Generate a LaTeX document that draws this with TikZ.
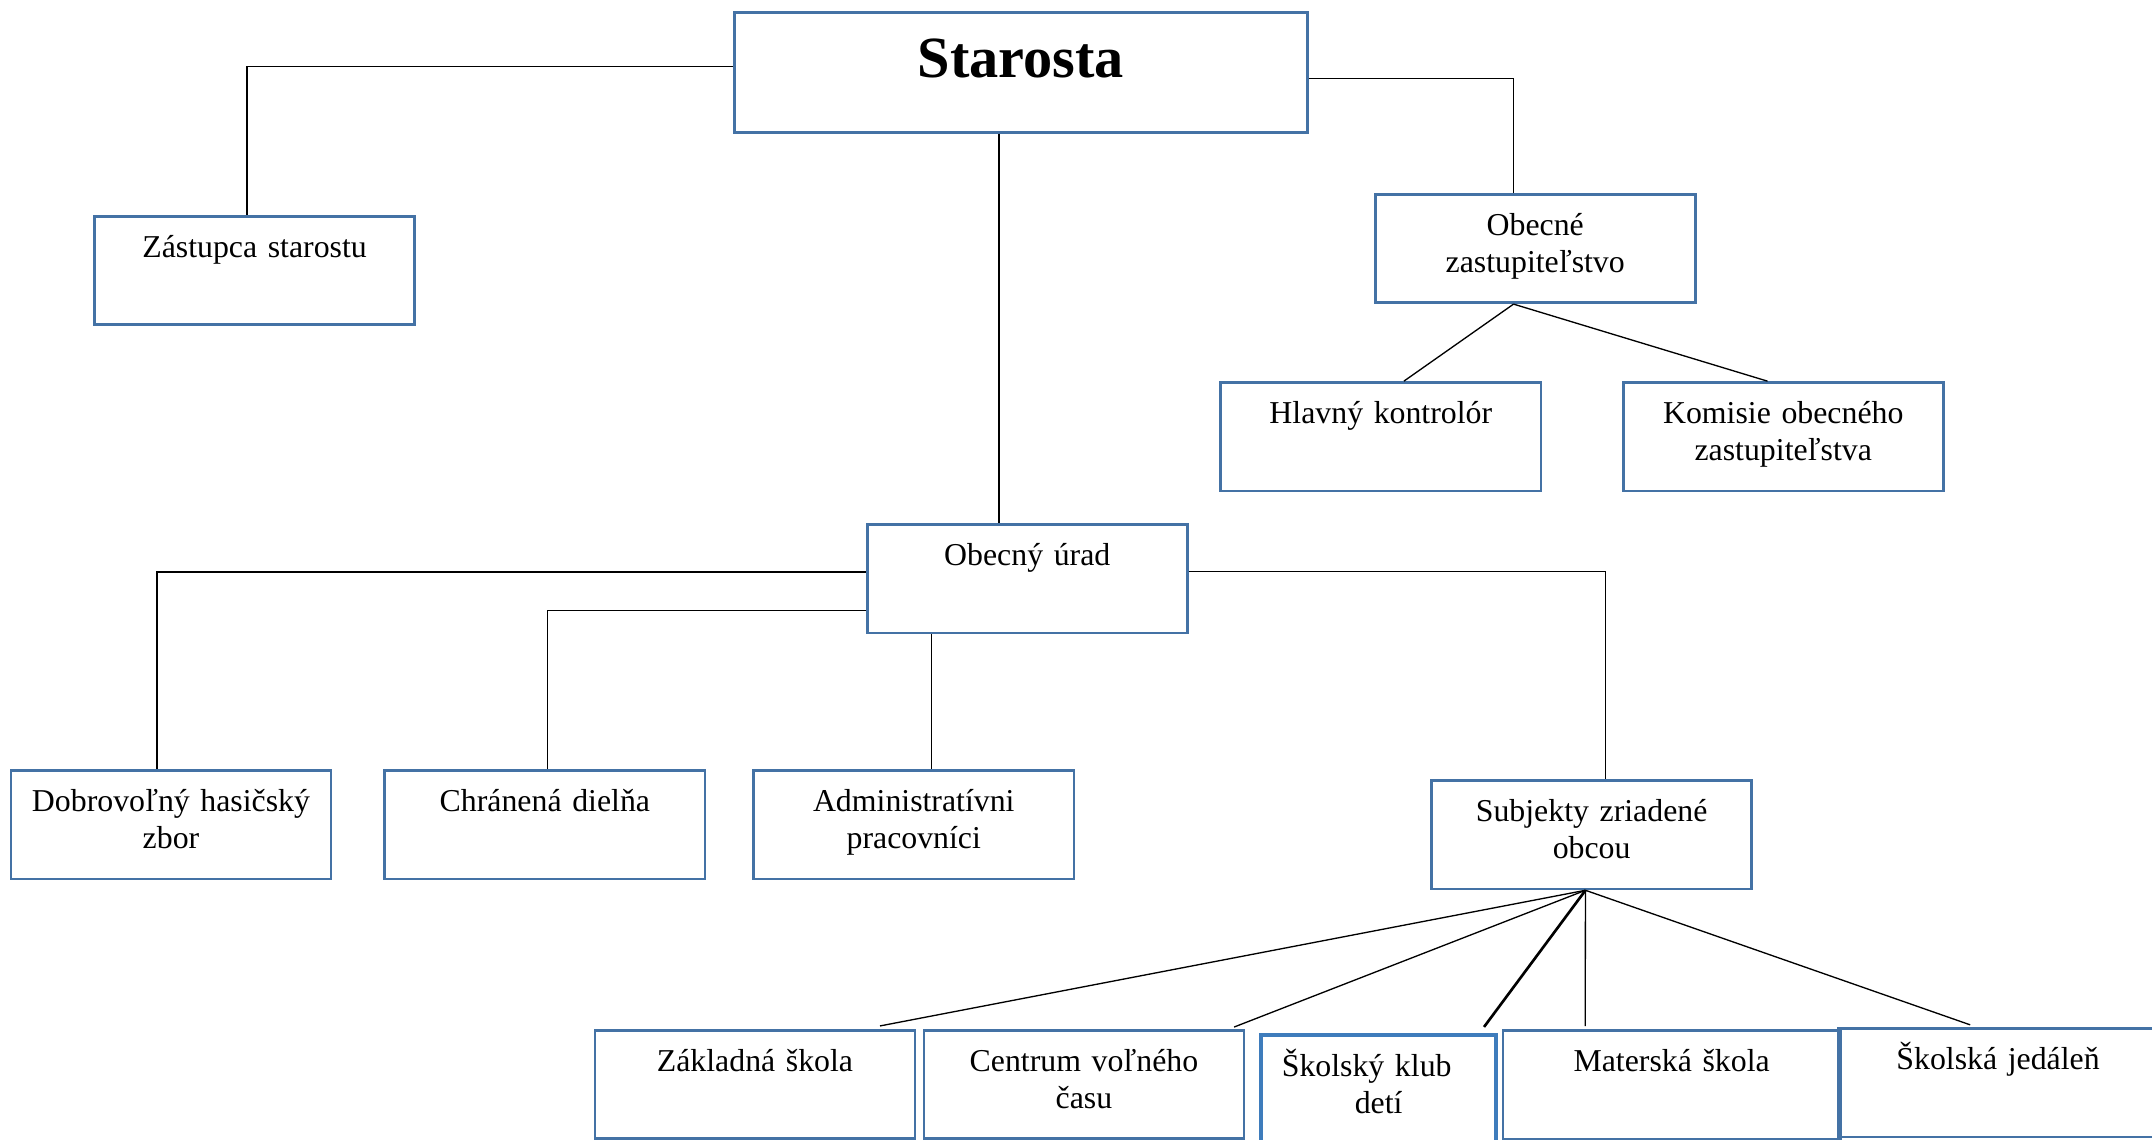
\documentclass[tikz,border=0pt]{standalone}
\usepackage{fontspec}
\setmainfont{Liberation Serif}
\usetikzlibrary{calc}
\definecolor{boxblue}{RGB}{68,114,165}
\definecolor{boxblue2}{RGB}{62,124,188}
\tikzstyle{unit}=[draw=boxblue, line width=1pt, inner sep=0pt,
    minimum width=120.7pt, text width=120.7pt, align=center,
    minimum height=40.9pt, text height=15.5pt, text depth=25.4pt,
    font=\fontsize{12}{13.9}\selectfont]
\tikzstyle{head}=[unit, minimum width=216pt, text width=216pt,
    minimum height=45.2pt, text height=24.5pt, text depth=20.7pt,
    font=\fontsize{22}{26}\selectfont\bfseries]
\tikzstyle{unit_narrow}=[unit, draw=boxblue2, minimum width=88.5pt,
    text width=88.5pt, line width=1.4pt, minimum height=41.4pt,
    text depth=25.9pt]
\tikzstyle{unit_wide}=[unit, minimum width=127.3pt, text width=127.3pt]
\tikzstyle{link}=[draw, line width=0.5pt]

\begin{document}
\begin{tikzpicture}[x=0.01819cm, y=-0.01819cm]
    \useasboundingbox (0,0) rectangle (1568,830.6);
    \clip (0,0) rectangle (1568,830.6);
    % top level
    \node (star) [head] at (743.9,52.7) {Starosta};
    \node (zast) [unit] at (185.5,197.1) {Zástupca starostu};
    \node (obzast) [unit] at (1118.6,181.1) {Obecné\\zastupiteľstvo};
    \node (kontr) [unit] at (1006.1,318.2) {Hlavný kontrolór};
    \node (komis) [unit] at (1299.3,318.2) {Komisie obecného\\zastupiteľstva};
    % office
    \node (urad) [unit] at (748.5,421.7) {Obecný úrad};
    \node (hasic) [unit] at (124.6,601) {Dobrovoľný hasičský\\zbor};
    \node (dielna) [unit] at (397,601) {Chránená dielňa};
    \node (admin) [unit] at (665.8,601) {Administratívni\\pracovníci};
    \node (subj) [unit] at (1159.7,608.2) {Subjekty zriadené\\obcou};
    % bottom row
    \node (zs) [unit] at (550.1,790.2) {Základná škola};
    \node (cvc) [unit] at (789.8,790.2) {Centrum voľného\\času};
    \node (skd) [unit_narrow] at (1004.5,794.2) {Školský klub\makebox[9pt]{}\\detí};
    \node (ms) [unit_wide] at (1218,790.3) {Materská škola};
    \node (sj) [unit] at (1455.8,789) {Školská jedáleň};
    % connectors
    \path [link] ($(star.west)+(0,-4.4)$) -| ($(zast.north)+(-5.5,0)$);
    \path [link] ($(star.east)+(0,4.3)$) -| ($(obzast.north)+(-15.8,0)$);
    \path [link] ($(star.south)+(-16,0)$) -- ($(urad.north)+(-20.6,0)$);
    \path [link] ($(obzast.south)+(-15.8,0)$) -- ($(kontr.north)+(16.8,0)$);
    \path [link] ($(obzast.south)+(-15.8,0)$) -- ($(komis.north)+(-11.5,0)$);
    \path [link] ($(urad.west)+(0,-4.9)$) -| ($(hasic.north)+(-10.3,0)$);
    \path [link] ($(urad.west)+(0,23)$) -| ($(dielna.north)+(1.7,0)$);
    \path [link] ($(urad.south)+(-69.8,0)$) -- ($(admin.north)+(12.9,0)$);
    \path [link] ($(urad.east)+(0,-5.1)$) -| ($(subj.north)+(10.3,0)$);
    \coordinate (fan) at ($(subj.south)+(-4.5,0)$);
    \path [link] (fan) -- ($(zs.north)+(91.1,-2.2)$);
    \path [link] (fan) -- ($(cvc.north)+(109.4,-1.4)$);
    \path [link, line width=1pt] (fan) -- ($(skd.north)+(76.8,-4.6)$);
    \path [link] (fan) -- ($(ms.north)+(-63,-2.1)$);
    \path [link] (fan) -- ($(sj.north)+(-20.3,-1.8)$);
\end{tikzpicture}
\end{document}
